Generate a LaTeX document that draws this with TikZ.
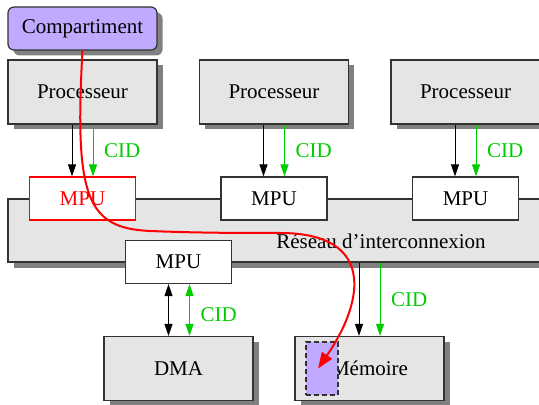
\documentclass[tikz,border=0pt]{standalone}
\usepackage{fontspec}
\setmainfont{Liberation Serif}
\usetikzlibrary{arrows.meta,shadows}
\definecolor{cpgray}{RGB}{229,229,229}
\definecolor{cpshadow}{RGB}{128,128,128}
\definecolor{cpline}{RGB}{51,51,51}
\definecolor{cpgreen}{RGB}{0,204,0}
\definecolor{cppurple}{RGB}{192,170,255}

\begin{document}
\begin{tikzpicture}[
  x=0.5pt, y=0.5pt,
  font=\fontsize{10.5}{12}\selectfont,
  >={Triangle[length=6pt,width=4pt]},
  shadowed/.style={drop shadow={shadow xshift=2.75pt, shadow yshift=-2.75pt,
                   fill=cpshadow, opacity=1}},
  box/.style={draw=cpline, line width=0.6pt, fill=cpgray, shadowed,
              minimum width=74.5pt, minimum height=32pt},
  comp/.style={box, fill=cppurple, rounded corners=3pt, minimum height=21.5pt},
  mpu/.style={draw=cpline, line width=0.6pt, fill=white,
              minimum width=53pt, minimum height=21.5pt},
  mpured/.style={mpu, draw=red, text=red},
  zone/.style={draw=cpline, fill=cppurple, line width=0.7pt,
               dash pattern=on 2.5pt off 1.5pt, inner sep=0pt,
               minimum width=16pt, minimum height=26.5pt},
  ctrl/.style={->, line width=0.5pt},
  cid/.style={->, line width=0.5pt, cpgreen},
  cidlbl/.style={right, xshift=2pt},
  flow/.style={-{Triangle[length=8pt,width=6pt]}, line width=1pt, red}
]
\useasboundingbox (0,0) rectangle (539,-405);

% ---- X positions ----
\def\xA{82.5}   % left column
\def\xB{274}    % middle column
\def\xC{465.5}  % right column
\def\xD{178.5}  % DMA
\def\xM{369.5}  % memoire

% ---- Processeurs ----
\node[comp] (comp) at (\xA,-28.5) {Compartiment};
\foreach \x/\n in {\xA/1, \xB/2, \xC/3} {
  \node[box] (proc\n) at (\x,-92) {Processeur};
}

% ---- Reseau + MPU ----
\node[box, minimum width=268.5pt, minimum height=31.5pt] (reseau) at (276.5,-230.5) {};
\node (reslbl) at (381,-241) {Réseau d'interconnexion};
\foreach \x/\n/\s in {\xA/1/mpured, \xB/2/mpu, \xC/3/mpu} {
  \node[\s] (mpu\n) at (\x,-198.5) {MPU};
}
\node[mpu] (mpu4) at (\xD,-262) {MPU};

% ---- Peripheriques ----
\node[box] (dma) at (\xD,-368.5) {DMA};
\node[box] (mem) at (\xM,-368.5) {Mémoire};
\node[zone] (zone) at (322,-368.5) {};

% ---- Liens ----
\foreach \n in {1,2,3} {
  \draw[ctrl] ([xshift=-5.25pt]proc\n.south) -- ([xshift=-5.25pt]mpu\n.north);
  \draw[cid] ([xshift=5.25pt]proc\n.south) -- ([xshift=5.25pt]mpu\n.north)
    node[midway, cidlbl] {CID};
}
\draw[ctrl, <->] ([xshift=-5pt]mpu4.south) -- ([xshift=-5pt]dma.north);
\draw[cid, <->] ([xshift=5.5pt]mpu4.south) -- ([xshift=5.5pt]dma.north)
  node[midway, cidlbl, yshift=-2.5pt] {CID};
\draw[ctrl] ([xshift=-5.25pt]mem.north |- reseau.south) -- ([xshift=-5.25pt]mem.north);
\draw[cid] ([xshift=5.25pt]mem.north |- reseau.south) -- ([xshift=5.25pt]mem.north)
  node[midway, cidlbl] {CID};

% ---- Acces du compartiment ----
\draw[flow] (comp.south) .. controls (74,-200) and (88,-228) .. (150,-231)
  .. controls (200,-233) and (240,-233) .. (280,-233)
  .. controls (375,-233) and (365,-300) .. ([xshift=-2pt]zone.center);

\end{tikzpicture}
\end{document}
